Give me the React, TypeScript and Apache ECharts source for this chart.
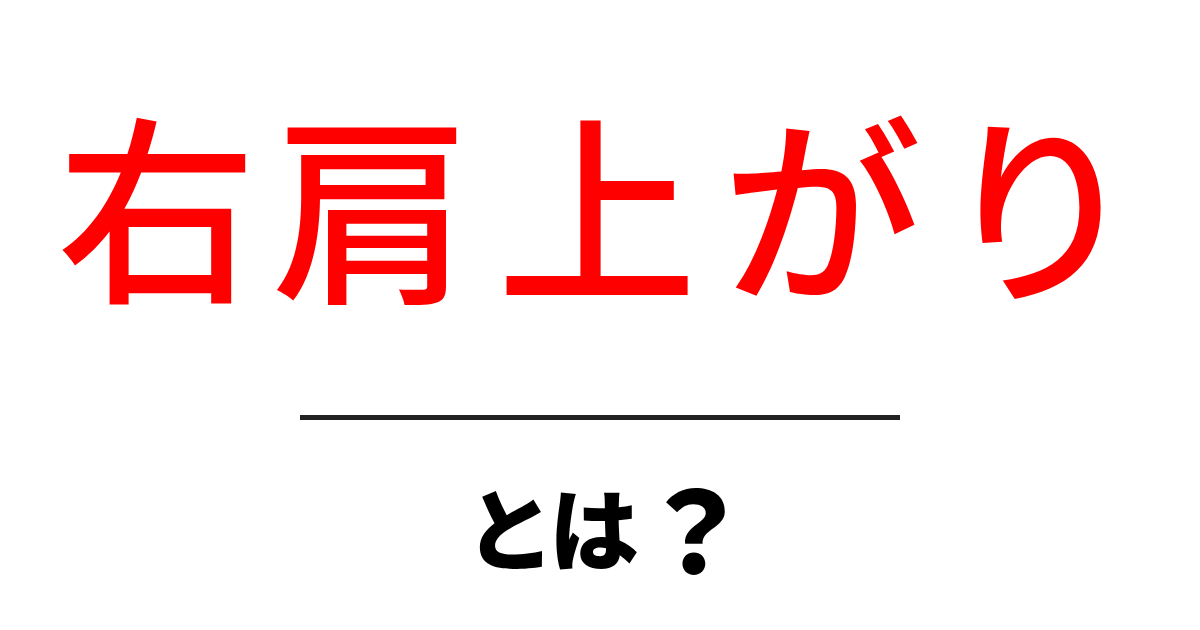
import React, { useEffect, useRef } from "react";
import * as echarts from "echarts";

const titleChars = ["右", "肩", "上", "が", "り"];
const titleCenters = [157, 372, 597, 822, 1040];
const subChars = ["と", "は", "？"];
const subCenters = [510, 594, 695];
const subSizes = [90, 90, 112];

export default function App() {
  const ref = useRef<HTMLDivElement>(null);
  useEffect(() => {
    document.body.style.margin = "0";
    const chart = echarts.init(ref.current!, null, { renderer: "svg" });
    const graphic: any[] = [];
    titleChars.forEach((c, i) => {
      graphic.push({
        type: "text",
        x: titleCenters[i],
        y: 200,
        style: {
          text: c,
          fill: "#ff0000",
          font: '500 200px "Noto Sans CJK JP"',
          textAlign: "center",
          textVerticalAlign: "middle",
        },
      });
    });
    graphic.push({
      type: "line",
      shape: { x1: 300, y1: 417.5, x2: 900, y2: 417.5 },
      style: { stroke: "#222222", lineWidth: 5 },
    });
    subChars.forEach((c, i) => {
      graphic.push({
        type: "text",
        x: subCenters[i],
        y: 525,
        style: {
          text: c,
          fill: "#000000",
          font: `900 ${subSizes[i]}px "Noto Sans CJK JP"`,
          textAlign: "center",
          textVerticalAlign: "middle",
        },
      });
    });
    chart.setOption({
      animation: false,
      backgroundColor: "#ffffff",
      graphic,
    });
    return () => chart.dispose();
  }, []);
  return <div ref={ref} style={{ width: 1200, height: 630 }} />;
}
